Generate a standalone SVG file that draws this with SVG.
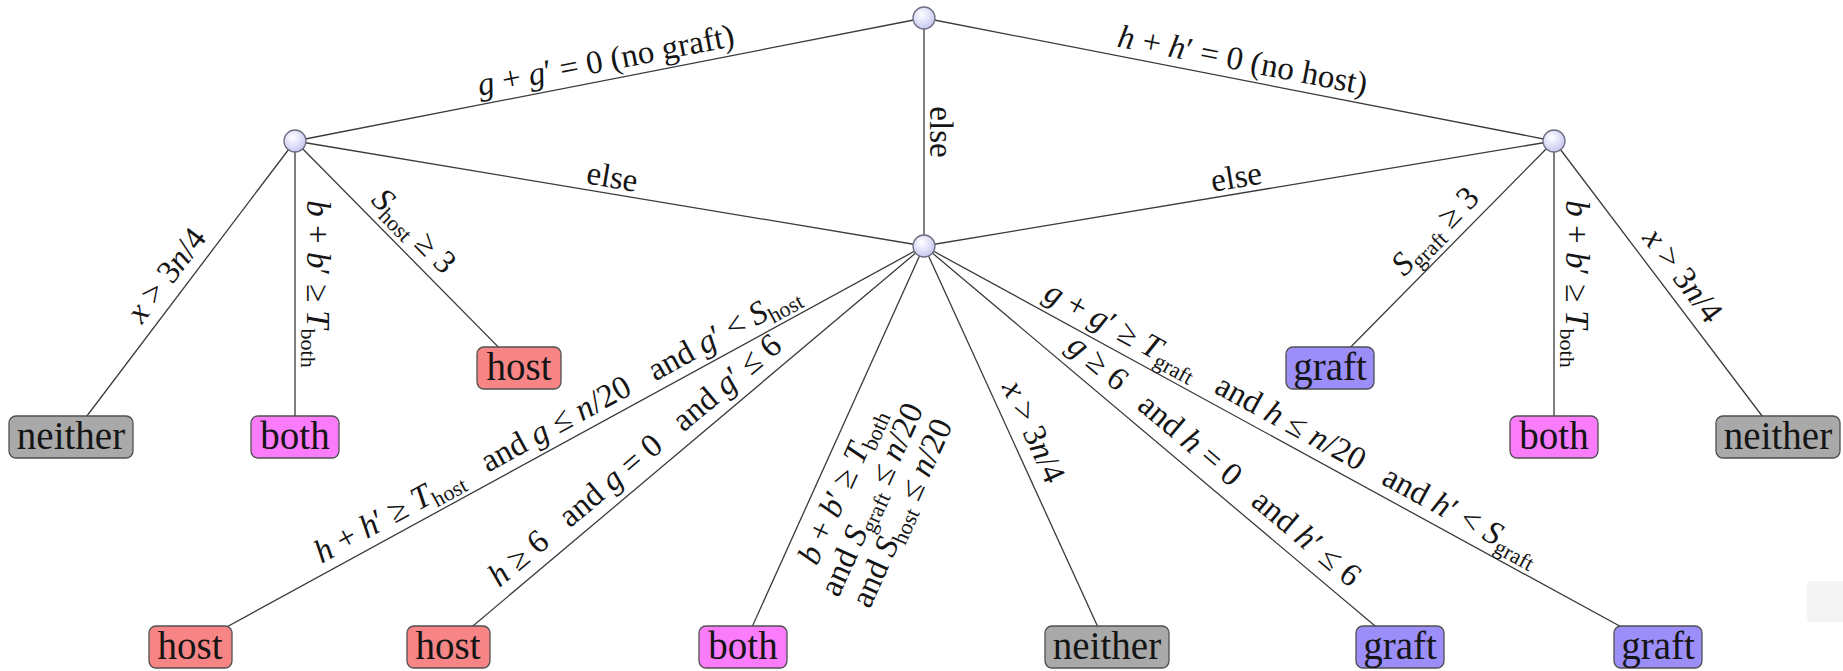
<svg xmlns="http://www.w3.org/2000/svg" width="1843" height="671" viewBox="0 0 1843 671" font-family="'Liberation Serif', 'DejaVu Serif', serif">
<defs>
<radialGradient id="ball" cx="0.4" cy="0.35" r="0.7">
<stop offset="0" stop-color="#ffffff"/>
<stop offset="1" stop-color="#c4c4f2"/>
</radialGradient>
<style>
.edge { stroke:#3a3a3a; stroke-width:1.3; fill:none; }
.lbl { font-family:'Liberation Serif','DejaVu Serif',serif; font-size:33px; fill:#151515; text-anchor:middle; }
.i { font-style:italic; }
.s { font-size:22px; font-style:normal; }
.dec { fill:url(#ball); stroke:#6e6e80; stroke-width:1.3; }
.leaf rect { stroke:#505050; stroke-width:1.3; }
.lt { font-family:'Liberation Serif','DejaVu Serif',serif; font-size:39px; fill:#151515; text-anchor:middle; }
.neither rect { fill:#a9a9a9; }
.both rect { fill:#fb7cfb; }
.host rect { fill:#f78585; }
.graft rect { fill:#9c8ef9; }
</style>
</defs>
<rect width="1843" height="671" fill="#ffffff"/>
<rect x="1807" y="581" width="40" height="41" rx="4" fill="#f4f4f4"/>

<g id="connectors">
<line class="edge" x1="924" y1="18" x2="295" y2="141"/>
<line class="edge" x1="924" y1="18" x2="1554" y2="141"/>
<line class="edge" x1="924" y1="18" x2="924" y2="246"/>
<line class="edge" x1="295" y1="141" x2="924" y2="246"/>
<line class="edge" x1="1554" y1="141" x2="924" y2="246"/>
<line class="edge" x1="295" y1="141" x2="71" y2="437"/>
<line class="edge" x1="295" y1="141" x2="295" y2="437"/>
<line class="edge" x1="295" y1="141" x2="519" y2="368"/>
<line class="edge" x1="1554" y1="141" x2="1330" y2="368"/>
<line class="edge" x1="1554" y1="141" x2="1554" y2="437"/>
<line class="edge" x1="1554" y1="141" x2="1778" y2="437"/>
<line class="edge" x1="924" y1="246" x2="190" y2="647"/>
<line class="edge" x1="924" y1="246" x2="448" y2="647"/>
<line class="edge" x1="924" y1="246" x2="743" y2="647"/>
<line class="edge" x1="924" y1="246" x2="1107" y2="647"/>
<line class="edge" x1="924" y1="246" x2="1400" y2="647"/>
<line class="edge" x1="924" y1="246" x2="1658" y2="647"/>

<text class="lbl" transform="translate(609.5,79.5) rotate(-11.06)" y="-9"><tspan class="i">g</tspan> + <tspan class="i">g</tspan>′ = 0 (no graft)</text>
<text class="lbl" transform="translate(1239,79.5) rotate(11.05)" y="-9"><tspan class="i">h</tspan> + <tspan class="i">h</tspan>′ = 0 (no host)</text>
<text class="lbl" transform="translate(924,132) rotate(90)" y="-6">else</text>
<text class="lbl" transform="translate(609.5,193.5) rotate(9.48)" y="-6">else</text>
<text class="lbl" transform="translate(1239,193.5) rotate(-9.46)" y="-6">else</text>
<text class="lbl" transform="translate(183.6,288.2) rotate(-52.88)" y="-11"><tspan class="i">x</tspan> &gt; 3<tspan class="i">n</tspan>/4</text>
<text class="lbl" transform="translate(1665.4,288.2) rotate(52.88)" y="-11"><tspan class="i">x</tspan> &gt; 3<tspan class="i">n</tspan>/4</text>
<text class="lbl" transform="translate(295,284) rotate(90)" y="-12"><tspan class="i">b</tspan> + <tspan class="i">b</tspan>′ ≥ <tspan class="i">T</tspan><tspan class="s" dy="6">both</tspan></text>
<text class="lbl" transform="translate(1554,284) rotate(90)" y="-12"><tspan class="i">b</tspan> + <tspan class="i">b</tspan>′ ≥ <tspan class="i">T</tspan><tspan class="s" dy="6">both</tspan></text>
<text class="lbl" transform="translate(398.7,246) rotate(45.39)" y="-11"><tspan class="i">S</tspan><tspan class="s" dy="6">host</tspan><tspan dy="-6"> ≥ 3</tspan></text>
<text class="lbl" transform="translate(1450.3,246) rotate(-45.39)" y="-11"><tspan class="i">S</tspan><tspan class="s" dy="6">graft</tspan><tspan dy="-6"> ≥ 3</tspan></text>
<text class="lbl" transform="translate(566.8,441.1) rotate(-28.65)" y="-10"><tspan class="i">h</tspan> + <tspan class="i">h</tspan>′ ≥ <tspan class="i">T</tspan><tspan class="s" dy="6">host</tspan><tspan dy="-6">&#160;&#160;&#160;and <tspan class="i">g</tspan> ≤ <tspan class="i">n</tspan>/20&#160;&#160;&#160;and <tspan class="i">g</tspan>′ &lt; <tspan class="i">S</tspan></tspan><tspan class="s" dy="6">host</tspan></text>
<text class="lbl" transform="translate(1282.2,441.1) rotate(28.65)" y="-10"><tspan class="i">g</tspan> + <tspan class="i">g</tspan>′ ≥ <tspan class="i">T</tspan><tspan class="s" dy="6">graft</tspan><tspan dy="-6">&#160;&#160;&#160;and <tspan class="i">h</tspan> ≤ <tspan class="i">n</tspan>/20&#160;&#160;&#160;and <tspan class="i">h</tspan>′ &lt; <tspan class="i">S</tspan></tspan><tspan class="s" dy="6">graft</tspan></text>
<text class="lbl" transform="translate(649.1,477.5) rotate(-40.11)" y="-12"><tspan class="i">h</tspan> ≥ 6&#160;&#160;&#160;and <tspan class="i">g</tspan> = 0&#160;&#160;&#160;and <tspan class="i">g</tspan>′ ≤ 6</text>
<text class="lbl" transform="translate(1199.9,477.5) rotate(40.11)" y="-12"><tspan class="i">g</tspan> ≥ 6&#160;&#160;&#160;and <tspan class="i">h</tspan> = 0&#160;&#160;&#160;and <tspan class="i">h</tspan>′ ≤ 6</text>
<g transform="translate(873,500) rotate(-65.70)">
<text class="lbl" y="-24"><tspan class="i">b</tspan> + <tspan class="i">b</tspan>′ ≥ <tspan class="i">T</tspan><tspan class="s" dy="6">both</tspan></text>
<text class="lbl" y="9">and <tspan class="i">S</tspan><tspan class="s" dy="6">graft</tspan><tspan dy="-6"> ≤ <tspan class="i">n</tspan>/20</tspan></text>
<text class="lbl" y="42">and <tspan class="i">S</tspan><tspan class="s" dy="6">host</tspan><tspan dy="-6"> ≤ <tspan class="i">n</tspan>/20</tspan></text>
</g>
<text class="lbl" transform="translate(1013,441) rotate(65.47)" y="-12"><tspan class="i">x</tspan> &gt; 3<tspan class="i">n</tspan>/4</text>
</g>

<g id="n-root"><circle class="dec" cx="924" cy="18" r="11"/></g>
<g id="n-left"><circle class="dec" cx="295" cy="141" r="11"/></g>
<g id="n-right"><circle class="dec" cx="1554" cy="141" r="11"/></g>
<g id="n-center"><circle class="dec" cx="924" cy="246" r="11"/></g>

<g id="leaf-neither-l" class="leaf neither"><rect x="9" y="416" width="124" height="42" rx="7"/><text class="lt" x="71" y="449">neither</text></g>
<g id="leaf-both-l" class="leaf both"><rect x="251" y="416" width="88" height="42" rx="7"/><text class="lt" x="295" y="449">both</text></g>
<g id="leaf-host-u" class="leaf host"><rect x="477" y="347" width="84" height="42" rx="7"/><text class="lt" x="519" y="380">host</text></g>
<g id="leaf-graft-u" class="leaf graft"><rect x="1286" y="347" width="88" height="42" rx="7"/><text class="lt" x="1330" y="380">graft</text></g>
<g id="leaf-both-r" class="leaf both"><rect x="1510" y="416" width="88" height="42" rx="7"/><text class="lt" x="1554" y="449">both</text></g>
<g id="leaf-neither-r" class="leaf neither"><rect x="1716" y="416" width="124" height="42" rx="7"/><text class="lt" x="1778" y="449">neither</text></g>
<g id="leaf-host-1" class="leaf host"><rect x="149" y="626" width="83" height="42" rx="7"/><text class="lt" x="190" y="659">host</text></g>
<g id="leaf-host-2" class="leaf host"><rect x="407" y="626" width="83" height="42" rx="7"/><text class="lt" x="448" y="659">host</text></g>
<g id="leaf-both-3" class="leaf both"><rect x="699" y="626" width="88" height="42" rx="7"/><text class="lt" x="743" y="659">both</text></g>
<g id="leaf-neither-4" class="leaf neither"><rect x="1045" y="626" width="124" height="42" rx="7"/><text class="lt" x="1107" y="659">neither</text></g>
<g id="leaf-graft-5" class="leaf graft"><rect x="1356" y="626" width="88" height="42" rx="7"/><text class="lt" x="1400" y="659">graft</text></g>
<g id="leaf-graft-6" class="leaf graft"><rect x="1614" y="626" width="88" height="42" rx="7"/><text class="lt" x="1658" y="659">graft</text></g>
</svg>
